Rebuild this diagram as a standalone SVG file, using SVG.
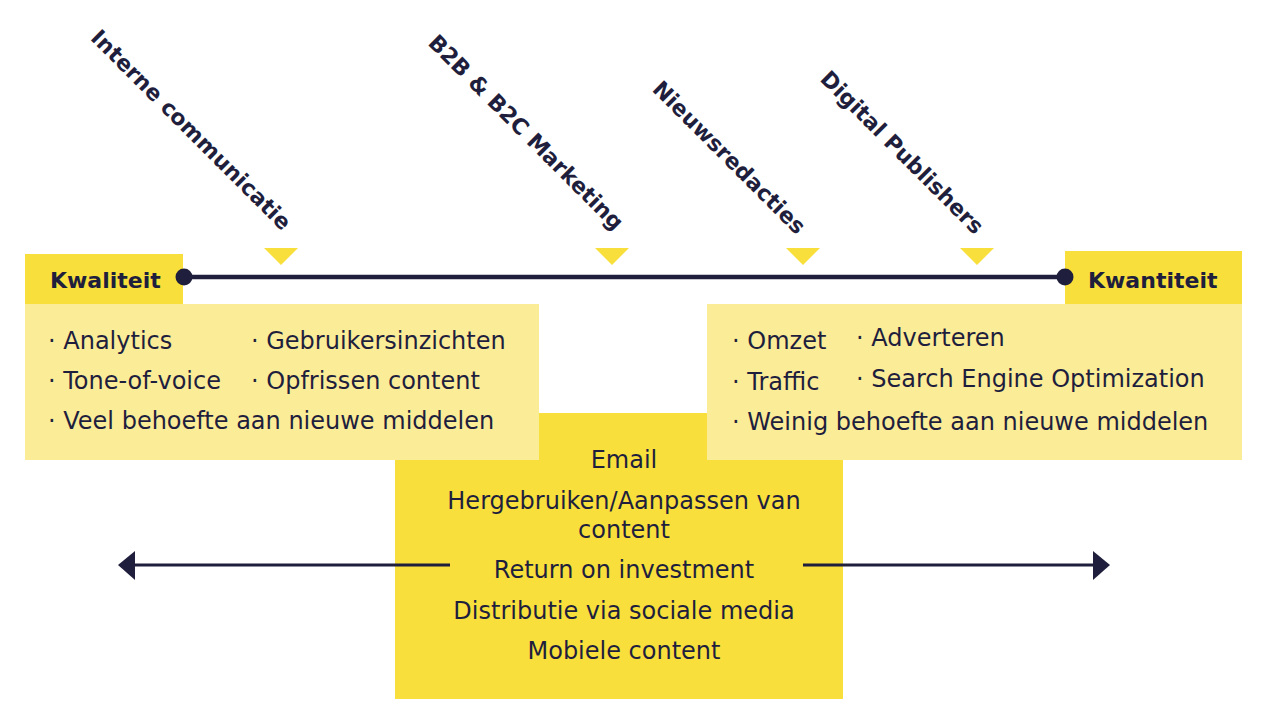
<svg xmlns="http://www.w3.org/2000/svg" width="1280" height="720" viewBox="0 0 1280 720">
  <style>
    .t { font-family: "DejaVu Sans", "Liberation Sans", sans-serif; font-size: 24px; fill: #1F1F3D; }
    .b { font-family: "DejaVu Sans", "Liberation Sans", sans-serif; font-size: 22px; font-weight: bold; fill: #1F1F3D; }
    .c { text-anchor: middle; }
    .dark { fill: #F8DF3C; }
    .light { fill: #FBEC98; }
    .tri { fill: #F8DF3C; }
    .ln { stroke: #1F1F3D; stroke-width: 3; fill: none; }
  </style>
  <rect width="1280" height="720" fill="#FFFFFF"/>

  <g id="center-box">
    <rect class="dark" x="395" y="413" width="448" height="286"/>
    <text class="t c" x="624" y="468">Email</text>
    <text class="t c" x="624" y="509">Hergebruiken/Aanpassen van</text>
    <text class="t c" x="624" y="538">content</text>
    <text class="t c" x="624" y="578">Return on investment</text>
    <text class="t c" x="624" y="619">Distributie via sociale media</text>
    <text class="t c" x="624" y="659">Mobiele content</text>
  </g>

  <g id="kwaliteit">
    <rect class="dark" x="25" y="254" width="158" height="50"/>
    <rect class="light" x="25" y="304" width="514" height="156"/>
    <text class="b" x="50" y="288">Kwaliteit</text>
    <text class="t" x="48" y="349">· Analytics</text>
    <text class="t" x="251" y="349">· Gebruikersinzichten</text>
    <text class="t" x="48" y="389">· Tone-of-voice</text>
    <text class="t" x="251" y="389">· Opfrissen content</text>
    <text class="t" x="48" y="429">· Veel behoefte aan nieuwe middelen</text>
  </g>

  <g id="kwantiteit">
    <rect class="dark" x="1065" y="251" width="177" height="53"/>
    <rect class="light" x="707" y="304" width="535" height="156"/>
    <text class="b" x="1088" y="288">Kwantiteit</text>
    <text class="t" x="732" y="349">· Omzet</text>
    <text class="t" x="856" y="346">· Adverteren</text>
    <text class="t" x="732" y="390">· Traffic</text>
    <text class="t" x="856" y="387">· Search Engine Optimization</text>
    <text class="t" x="732" y="430">· Weinig behoefte aan nieuwe middelen</text>
  </g>

  <g id="labels">
    <text class="b" text-anchor="end" transform="translate(282,231.5) rotate(45)">Interne communicatie</text>
    <text class="b" text-anchor="end" transform="translate(614.5,231.5) rotate(45)">B2B &amp; B2C Marketing</text>
    <text class="b" text-anchor="end" transform="translate(796.5,235.5) rotate(45)">Nieuwsredacties</text>
    <text class="b" text-anchor="end" transform="translate(974.5,235.5) rotate(45)">Digital Publishers</text>
  </g>

  <g id="markers">
    <polygon class="tri" points="264,248 298,248 281,265"/>
    <polygon class="tri" points="595,248 629,248 612,265"/>
    <polygon class="tri" points="786,248 820,248 803,265"/>
    <polygon class="tri" points="960,248 994,248 977,265"/>
  </g>

  <g id="connectors">
    <line x1="184" y1="277" x2="1065" y2="277" stroke="#1F1F3D" stroke-width="4.5"/>
    <circle cx="184" cy="277" r="8.5" fill="#1F1F3D"/>
    <circle cx="1065" cy="277" r="8.5" fill="#1F1F3D"/>
    <line class="ln" x1="450" y1="565" x2="130" y2="565"/>
    <polygon points="118,565 135,551 135,580" fill="#1F1F3D"/>
    <line class="ln" x1="803" y1="565" x2="1098" y2="565"/>
    <polygon points="1110,565 1093,551 1093,580" fill="#1F1F3D"/>
  </g>
</svg>
